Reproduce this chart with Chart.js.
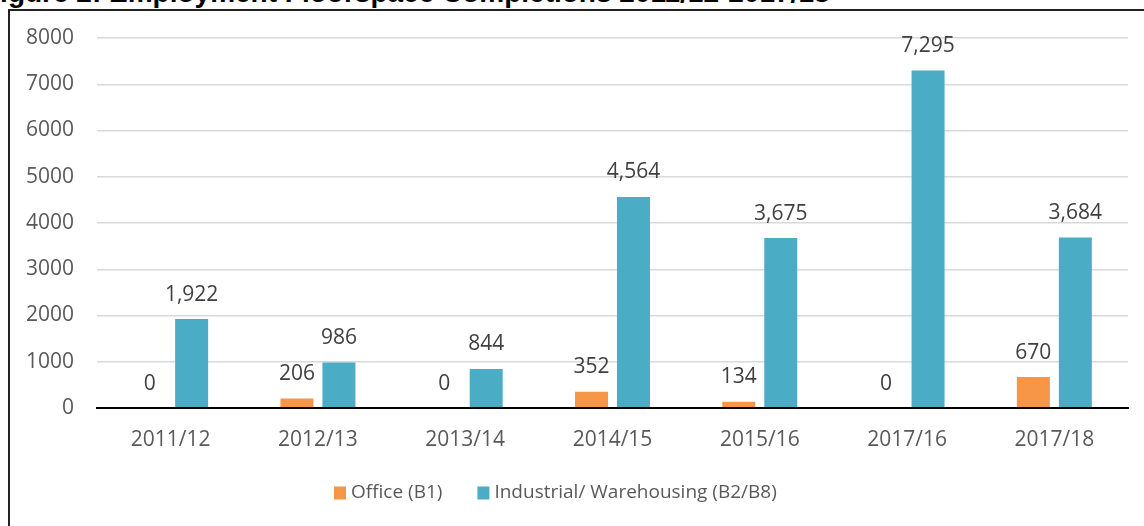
<!DOCTYPE html>
<html>
<head>
<meta charset="utf-8">
<script src="https://cdn.jsdelivr.net/npm/chart.js@4/dist/chart.umd.min.js"></script>
<style>
  html, body { margin: 0; padding: 0; background: #fff; overflow: hidden; }
  #stage { position: relative; width: 1144px; height: 526px; overflow: hidden; }
  .fig-title {
    position: absolute; left: -17px; top: -21px; white-space: nowrap;
    font: bold 28px "Liberation Sans", Arial, sans-serif; line-height: 28px; color: #000;
  }
  .frame {
    position: absolute; left: 8px; top: 9px; right: 0; bottom: 0;
    border-top: 2px solid #222; border-left: 2px solid #222;
  }
  #wrap { position: absolute; left: 0; top: 0; width: 1144px; height: 526px; }
</style>
</head>
<body>
<div id="stage">
  <div class="fig-title">Figure 2: Employment Floorspace Completions 2011/12-2017/18</div>
  <div class="frame"></div>
  <div id="wrap"><canvas id="floorChart"></canvas></div>
</div>
<script>
const YEARS = ['2011/12', '2012/13', '2013/14', '2014/15', '2015/16', '2017/16', '2017/18'];
const OFFICE = [0, 206, 0, 352, 134, 0, 670];
const INDUSTRIAL = [1922, 986, 844, 4564, 3675, 7295, 3684];
const Y_TICKS = [0, 1000, 2000, 3000, 4000, 5000, 6000, 7000, 8000];

const FONT = '"Open Sans", sans-serif';

// ── value labels over each bar ──
const valueLabels = {
  id: 'valueLabels',
  afterDatasetsDraw(chart) {
    const { ctx } = chart;
    ctx.save();
    ctx.font = '21px ' + FONT;
    ctx.fillStyle = '#404040';
    ctx.textAlign = 'center';
    ctx.textBaseline = 'alphabetic';
    chart.data.datasets.forEach((ds, i) => {
      chart.getDatasetMeta(i).data.forEach((bar, j) => {
        ctx.fillText(ds.data[j].toLocaleString('en-GB'), bar.x, bar.y - 18.5);
      });
    });
    ctx.restore();
  },
};

// ── legend under the axis ──
const bottomLegend = {
  id: 'bottomLegend',
  afterDraw(chart) {
    const { ctx } = chart;
    const y = 493;
    let x = 334;
    ctx.save();
    ctx.font = '19px ' + FONT;
    ctx.textBaseline = 'middle';
    ctx.textAlign = 'left';
    chart.data.datasets.forEach(ds => {
      ctx.fillStyle = ds.backgroundColor;
      ctx.fillRect(x, y - 6.5, 12, 13);
      ctx.fillStyle = '#595959';
      ctx.fillText(ds.label, x + 17, y);
      x += 17 + ctx.measureText(ds.label).width + 35;
    });
    ctx.restore();
  },
};

new Chart(document.getElementById('floorChart'), {
  type: 'bar',
  data: {
    labels: YEARS,
    datasets: [
      { label: 'Office (B1)', data: OFFICE, backgroundColor: '#F79646' },
      { label: 'Industrial/ Warehousing (B2/B8)', data: INDUSTRIAL, backgroundColor: '#4BACC6' },
    ],
  },
  options: {
    responsive: true,
    maintainAspectRatio: false,
    animation: false,
    categoryPercentage: 0.57,
    barPercentage: 0.786,
    layout: { padding: { top: 38, right: 16, left: 0, bottom: 0 } },
    plugins: {
      legend: { display: false },
      tooltip: { enabled: false },
    },
    scales: {
      x: {
        grid: { display: false, drawTicks: false },
        border: { display: true, color: '#000', width: 2 },
        ticks: { color: '#595959', font: { family: FONT, size: 21 }, padding: 19, maxRotation: 0 },
        afterFit: s => { s.height = 118; },
      },
      y: {
        min: 0,
        max: 8000,
        afterBuildTicks: s => { s.ticks = Y_TICKS.map(v => ({ value: v })); },
        grid: {
          drawTicks: false,
          color: c => (c.tick.value === 0 ? '#000' : '#d9d9d9'),
          lineWidth: c => (c.tick.value === 0 ? 2 : 1.5),
        },
        border: { display: false },
        ticks: {
          color: '#595959',
          font: { family: FONT, size: 21 },
          padding: 23,
          callback: v => String(v),
        },
        afterFit: s => { s.width = 97; },
      },
    },
  },
  plugins: [valueLabels, bottomLegend],
});
</script>
</body>
</html>
